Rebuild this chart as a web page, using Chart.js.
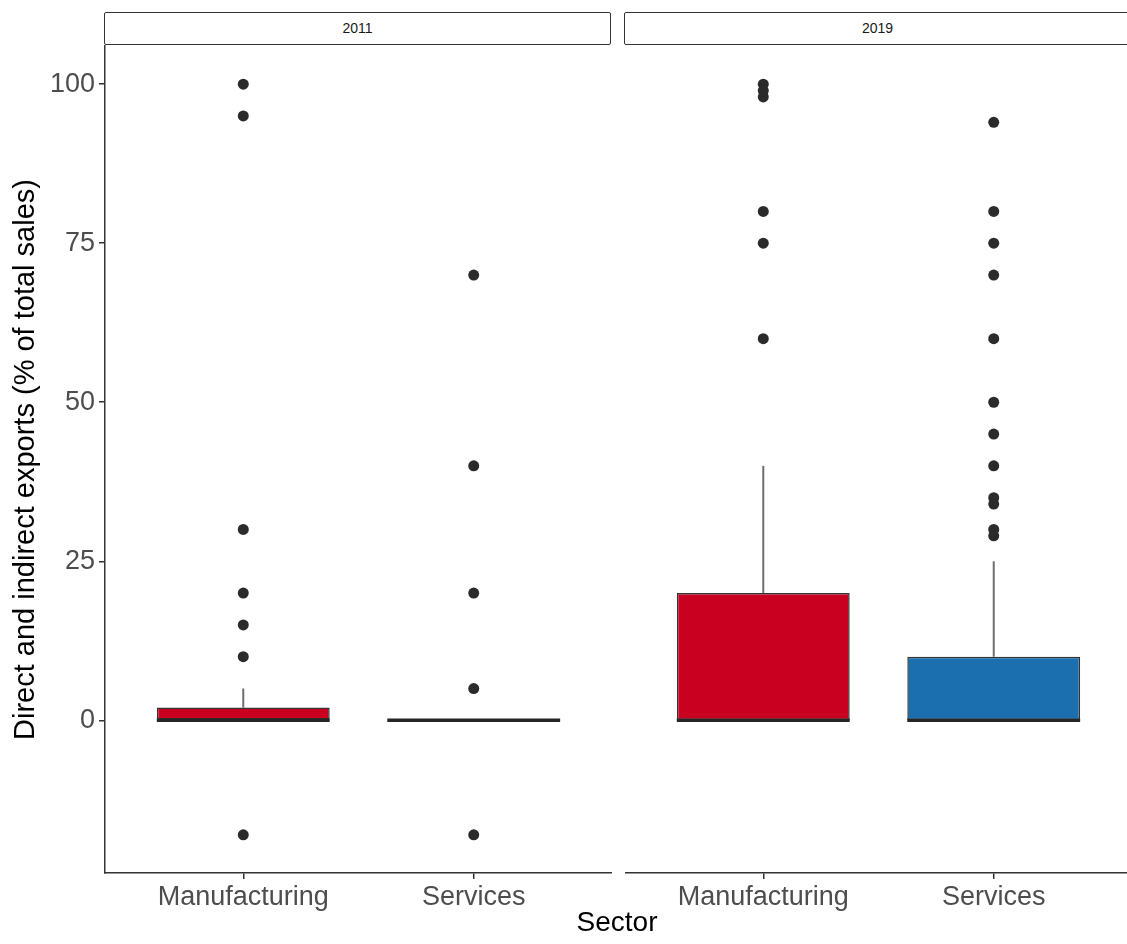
<!DOCTYPE html>
<html>
<head>
<meta charset="utf-8">
<script src="https://cdn.jsdelivr.net/npm/chart.js@4.4.1/dist/chart.umd.min.js"></script>
<style>
  body { margin: 0; background: #fff; width: 1127px; height: 944px; overflow: hidden; position: relative; font-family: "Liberation Sans", Arial, sans-serif; }
  canvas { position: absolute; top: 0; }
  #c2011 { left: 0; }
  #c2019 { left: 625px; }
  .strip { position: absolute; top: 12px; height: 31px; border: 1.5px solid #333; border-radius: 2px; background: #fff;
           font-size: 14px; color: #1a1a1a; text-align: center; line-height: 31px; box-sizing: content-box; }
  #xtitle { position: absolute; left: 417px; width: 400px; top: 906px; text-align: center; font-size: 28px; color: #000; }
</style>
</head>
<body>
<div class="strip" style="left:104px; width:505px;">2011</div>
<div class="strip" style="left:624px; width:505px;">2019</div>
<canvas id="c2011" width="612" height="944"></canvas>
<canvas id="c2019" width="507" height="944"></canvas>
<div id="xtitle">Sector</div>
<script>
const sectors = ['Manufacturing', 'Services'];
const yTicks = [0, 25, 50, 75, 100];

// 2011 box stats [Manufacturing, Services]
const q1_2011 = [0, 0];
const med_2011 = [0, 0];
const q3_2011 = [2, 0];
const upper_2011 = [5, 0];
const outMfg_2011 = [100, 95, 30, 20, 15, 10, -18];
const outSrv_2011 = [70, 40, 20, 5, -18];

// 2019 box stats [Manufacturing, Services]
const q1_2019 = [0, 0];
const med_2019 = [0, 0];
const q3_2019 = [20, 10];
const upper_2019 = [40, 25];
const outMfg_2019 = [100, 99, 98, 80, 75, 60];
const outSrv_2019 = [94, 80, 75, 70, 60, 50, 45, 40, 35, 34, 30, 29];

const boxColors = ['#ca0020', '#1c6fae'];
const halfBox = 0.375;
const tickFont = { family: '"Liberation Sans", Arial, sans-serif', size: 27 };

function makePanel(id, q1, med, q3, upper, outliers, showY) {
    const datasets = [];

    // outlier points
    const pts = [];
    outliers.forEach((list, i) => list.forEach(v => pts.push({ x: i + 1, y: v })));
    datasets.push({
        type: 'scatter',
        data: pts,
        backgroundColor: '#2b2b2b',
        borderWidth: 0,
        pointRadius: 5.5,
        order: 0
    });

    // median lines
    sectors.forEach((s, i) => {
        datasets.push({
            type: 'line',
            data: [{ x: i + 1 - halfBox, y: med[i] }, { x: i + 1 + halfBox, y: med[i] }],
            borderColor: '#262626',
            borderWidth: 3.5,
            pointRadius: 0,
            order: 1
        });
    });

    // boxes
    datasets.push({
        type: 'bar',
        data: sectors.map((s, i) => ({ x: i + 1, y: [q1[i], q3[i]] })),
        backgroundColor: boxColors,
        borderColor: '#333333',
        borderWidth: 1.5,
        borderSkipped: false,
        barPercentage: 0.75,
        categoryPercentage: 1,
        order: 2
    });

    // upper whiskers
    sectors.forEach((s, i) => {
        datasets.push({
            type: 'line',
            data: [{ x: i + 1, y: q3[i] }, { x: i + 1, y: upper[i] }],
            borderColor: '#6e6e6e',
            borderWidth: 2,
            pointRadius: 0,
            order: 3
        });
    });

    return new Chart(document.getElementById(id), {
        type: 'bar',
        data: { datasets: datasets },
        options: {
            responsive: false,
            animation: false,
            layout: { autoPadding: false, padding: { top: 46, right: 0, left: 0, bottom: 0 } },
            plugins: { legend: { display: false }, tooltip: { enabled: false } },
            scales: {
                x: {
                    type: 'linear',
                    min: 0.4,
                    max: 2.6,
                    offset: false,
                    afterBuildTicks: axis => { axis.ticks = sectors.map((s, i) => ({ value: i + 1 })); },
                    afterFit: axis => { axis.height = 71; },
                    ticks: {
                        font: tickFont,
                        color: '#4d4d4d',
                        padding: 2,
                        maxRotation: 0,
                        callback: v => sectors[v - 1]
                    },
                    grid: { offset: false, drawOnChartArea: false, drawTicks: true, tickLength: 6, color: '#333', lineWidth: 1.5 },
                    border: { display: true, color: '#333', width: 1.5 }
                },
                y: {
                    display: showY,
                    min: -24,
                    max: 106,
                    afterBuildTicks: axis => { axis.ticks = yTicks.map(v => ({ value: v })); },
                    afterFit: axis => { axis.width = showY ? 105 : 0; },
                    ticks: { font: tickFont, color: '#4d4d4d', padding: 4 },
                    grid: { drawOnChartArea: false, drawTicks: true, tickLength: 6, color: '#333', lineWidth: 1.5 },
                    border: { display: true, color: '#333', width: 1.5 },
                    title: {
                        display: true,
                        text: 'Direct and indirect exports (% of total sales)',
                        font: { family: '"Liberation Sans", Arial, sans-serif', size: 29 },
                        color: '#000',
                        padding: { top: 9, bottom: 0 }
                    }
                }
            }
        }
    });
}

makePanel('c2011', q1_2011, med_2011, q3_2011, upper_2011, [outMfg_2011, outSrv_2011], true);
makePanel('c2019', q1_2019, med_2019, q3_2019, upper_2019, [outMfg_2019, outSrv_2019], false);
</script>
</body>
</html>
